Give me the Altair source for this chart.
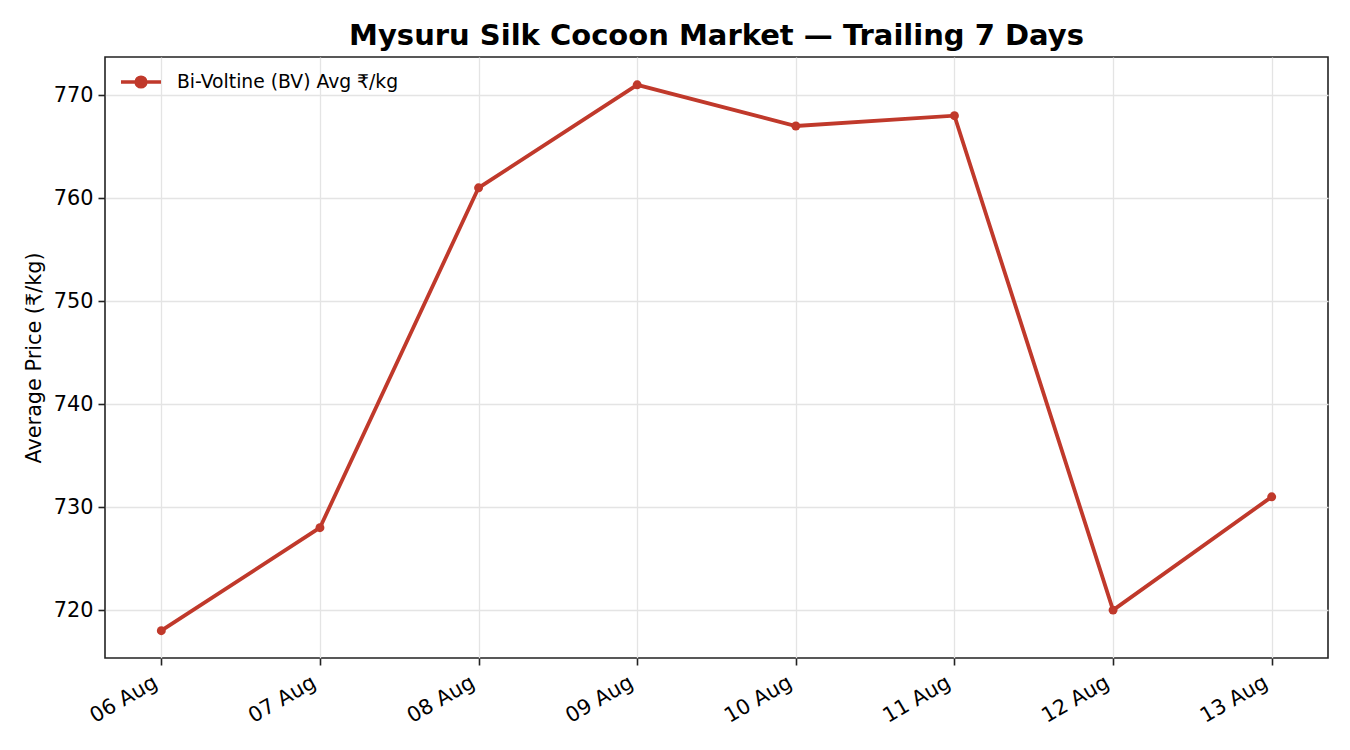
import altair as alt
import pandas as pd

dates = ["06 Aug", "07 Aug", "08 Aug", "09 Aug", "10 Aug", "11 Aug", "12 Aug", "13 Aug"]
prices = [718, 728, 761, 771, 767, 768, 720, 731]
series_name = "Bi-Voltine (BV) Avg ₹/kg"
y_ticks = [720, 730, 740, 750, 760, 770]

df = pd.DataFrame({"date": dates, "price": prices, "series": [series_name] * len(dates)})

color = "#c0392b"
font = "DejaVu Sans"

legend_symbol = "M-1,0H1M-0.24,0A0.24,0.24 0 1 1 0.24,0A0.24,0.24 0 1 1 -0.24,0Z"

x = alt.X("date:N", sort=dates, title=None,
          scale=alt.Scale(type="point", padding=0.355),
          axis=alt.Axis(labelAngle=-30, labelAlign="right", labelBaseline="top",
                        labelFontSize=20.8, labelFont=font, labelColor="#000",
                        tickColor="#222", tickSize=7, tickWidth=1.6, labelPadding=7,
                        labelOffset=-11,
                        domain=False, grid=True, gridColor="#e4e4e4", gridWidth=1.3))
y = alt.Y("price:Q", title="Average Price (₹/kg)",
          scale=alt.Scale(domain=[715.35, 773.7], nice=False, zero=False),
          axis=alt.Axis(values=y_ticks, labelFontSize=20.8, labelFont=font, labelColor="#000",
                        titleFont=font, titleFontSize=20.8, titleFontWeight="normal",
                        titleColor="#000", titlePadding=9,
                        tickColor="#222", tickSize=7, tickWidth=1.6, labelPadding=5,
                        domain=False, grid=True, gridColor="#e4e4e4", gridWidth=1.3))
scale_c = alt.Scale(domain=[series_name], range=[color])
c = alt.Color("series:N", title=None, scale=scale_c,
              legend=alt.Legend(orient="none", legendX=14, legendY=3,
                                symbolType=legend_symbol, symbolSize=1600,
                                symbolStrokeWidth=3.6, symbolFillColor=color,
                                labelFont=font, labelFontSize=18.75, labelColor="#000",
                                labelOffset=14, labelLimit=600))

base = alt.Chart(df)
line = base.mark_line(strokeWidth=3.8).encode(x=x, y=y, color=c)
pts = base.mark_circle(size=80, opacity=1).encode(
    x=x, y=y, color=alt.Color("series:N", legend=None, scale=scale_c))

chart = (line + pts).properties(
    width=1223, height=601,
    background="white",
    title=alt.TitleParams("Mysuru Silk Cocoon Market — Trailing 7 Days",
                          font=font, fontSize=29, fontWeight="bold", color="#000",
                          offset=6),
    autosize=alt.AutoSizeParams(type="none"),
    padding={"left": 97, "top": 49, "right": 10, "bottom": 80},
).configure_view(stroke="#222", strokeWidth=1.6)

chart.save("out.html", embed_options={"renderer": "svg", "actions": False})
